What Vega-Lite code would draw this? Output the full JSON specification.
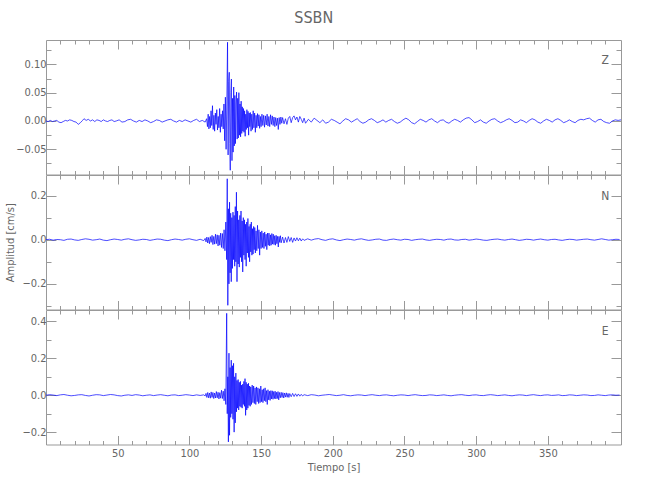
{
"$schema":"https://vega.github.io/schema/vega-lite/v6.json",
"background":"white",
"padding":{"left":4,"top":10,"right":5,"bottom":5},
"title":{"text":"SSBN","fontSize":16,"font":"Liberation Sans Narrow, DejaVu Sans Condensed, sans-serif","fontWeight":"normal","color":"#666666","offset":13,"anchor":"middle"},
"spacing":0,
"bounds":"flush",
"config":{
 "view":{"stroke":"#999999","strokeWidth":1},
 "axis":{"grid":false,"domain":false,"tickColor":"#999999","tickWidth":1,"labelColor":"#666666","labelFont":"Liberation Sans Narrow, DejaVu Sans Condensed, sans-serif","labelFontSize":11,"titleFont":"Liberation Sans Narrow, DejaVu Sans Condensed, sans-serif","titleFontSize":11,"titleFontWeight":"normal","titleColor":"#666666"},
 "axisTop":{"minExtent":0,"maxExtent":0},
 "axisBottom":{"minExtent":0,"maxExtent":0},
 "axisRight":{"minExtent":0,"maxExtent":0}
},
"datasets":{
"Z":[{"t":0,"a":0},{"t":1.5,"a":-0.001},{"t":3,"a":0.001},{"t":4.5,"a":-0.001},{"t":6,"a":0},{"t":7.5,"a":0.001},{"t":9,"a":-0.002},{"t":10.5,"a":-0.003},{"t":12,"a":-0.001},{"t":13.5,"a":0.001},{"t":15,"a":0},{"t":16.5,"a":0.002},{"t":18,"a":0.001},{"t":19.5,"a":-0.001},{"t":21,"a":-0.002},{"t":22.5,"a":-0.006},{"t":24,"a":-0.003},{"t":25.5,"a":0.001},{"t":26.5,"a":0.004},{"t":28,"a":0.001},{"t":29.5,"a":0.003},{"t":31,"a":0},{"t":32.5,"a":0.002},{"t":34,"a":-0.001},{"t":35.5,"a":0.002},{"t":37,"a":0.001},{"t":38.5,"a":-0.001},{"t":40,"a":0.002},{"t":41.5,"a":0},{"t":43,"a":-0.001},{"t":44.5,"a":0.001},{"t":46,"a":0.002},{"t":47.5,"a":-0.001},{"t":49,"a":0},{"t":51,"a":0.002},{"t":53,"a":-0.002},{"t":55,"a":-0.001},{"t":57,"a":0.002},{"t":59,"a":0.003},{"t":61,"a":0},{"t":63,"a":-0.002},{"t":65,"a":0.001},{"t":67,"a":-0.001},{"t":69,"a":0.002},{"t":71,"a":0},{"t":73,"a":-0.003},{"t":75,"a":-0.001},{"t":77,"a":0.002},{"t":79,"a":0.001},{"t":81,"a":-0.002},{"t":83,"a":0},{"t":85,"a":0.002},{"t":87,"a":0.003},{"t":89,"a":0},{"t":91,"a":-0.002},{"t":93,"a":0.001},{"t":95,"a":-0.001},{"t":97,"a":0.002},{"t":99,"a":0},{"t":101,"a":-0.002},{"t":103,"a":0.001},{"t":105,"a":0.003},{"t":107,"a":-0.001},{"t":109,"a":0.001},{"t":111,"a":-0.002},
{"t":112,"a":0.004},{"t":112.6,"a":-0.010},{"t":113.1,"a":0.012},{"t":113.6,"a":-0.014},{"t":114.1,"a":0.008},{"t":114.6,"a":-0.012},{"t":115.1,"a":0.018},{"t":115.6,"a":-0.008},{"t":116.1,"a":0.027},{"t":116.6,"a":-0.015},{"t":117.1,"a":0.010},{"t":117.6,"a":-0.018},{"t":118.1,"a":0.014},{"t":118.6,"a":-0.006},{"t":119.1,"a":0.020},{"t":119.6,"a":-0.016},{"t":120.1,"a":0.008},{"t":120.6,"a":-0.012},{"t":121.1,"a":0.022},{"t":121.6,"a":-0.020},{"t":122.1,"a":0.012},{"t":122.6,"a":-0.010},{"t":123.1,"a":0.018},{"t":123.6,"a":-0.014},{"t":124.1,"a":0.030},{"t":124.6,"a":-0.035},{"t":125.1,"a":0.042},{"t":125.6,"a":-0.050},{"t":126.1,"a":0.030},{"t":126.6,"a":0.139},{"t":127.0,"a":-0.060},{"t":127.4,"a":0.070},{"t":127.8,"a":0.086},{"t":128.2,"a":-0.040},{"t":128.5,"a":-0.087},{"t":128.9,"a":0.050},{"t":129.3,"a":0.074},{"t":129.7,"a":-0.070},{"t":130.1,"a":0.040},{"t":130.5,"a":-0.055},{"t":130.9,"a":0.060},{"t":131.3,"a":-0.044},{"t":131.7,"a":0.045},{"t":132.1,"a":-0.040},{"t":132.5,"a":0.030},{"t":132.9,"a":0.051},{"t":133.3,"a":-0.032},{"t":133.7,"a":0.040},{"t":134.1,"a":-0.030},{"t":134.5,"a":0.050},{"t":134.9,"a":-0.025},{"t":135.3,"a":0.030},{"t":135.7,"a":-0.028},{"t":136.1,"a":0.035},{"t":136.5,"a":-0.022},{"t":136.9,"a":0.025},{"t":137.3,"a":-0.018},{"t":137.7,"a":0.022},{"t":138.1,"a":-0.020},{"t":138.5,"a":0.018},{"t":138.9,"a":-0.027},{"t":139.3,"a":0.012},{"t":139.7,"a":-0.015},{"t":140.1,"a":0.020},{"t":140.5,"a":-0.012},{"t":140.9,"a":0.017},{"t":141.3,"a":-0.025},{"t":141.7,"a":0.014},{"t":142.1,"a":-0.010},{"t":142.5,"a":0.015},{"t":143,"a":-0.018},{"t":143.5,"a":0.012},{"t":144,"a":-0.015},{"t":144.5,"a":0.018},{"t":145,"a":-0.012},{"t":145.5,"a":0.014},{"t":146,"a":-0.020},{"t":146.5,"a":0.010},{"t":147,"a":-0.012},{"t":147.5,"a":0.013},{"t":148,"a":-0.009},{"t":148.5,"a":0.011},{"t":149,"a":-0.013},{"t":149.5,"a":0.008},{"t":150,"a":-0.010},{"t":150.6,"a":0.012},{"t":151.2,"a":-0.008},{"t":151.8,"a":0.010},{"t":152.4,"a":-0.011},{"t":153,"a":0.009},{"t":153.6,"a":-0.007},{"t":154.2,"a":0.012},{"t":154.8,"a":-0.009},{"t":155.4,"a":0.008},{"t":156,"a":-0.010},{"t":156.6,"a":0.011},{"t":157.2,"a":-0.006},{"t":157.8,"a":0.009},{"t":158.4,"a":-0.008},{"t":159,"a":0.007},{"t":159.6,"a":-0.010},{"t":160.2,"a":0.006},{"t":160.8,"a":-0.008},{"t":161.4,"a":0.005},{"t":162,"a":-0.015},{"t":162.6,"a":0.006},{"t":163.2,"a":-0.006},{"t":163.8,"a":0.007},{"t":164.4,"a":-0.004},{"t":165,"a":0.006},{"t":166,"a":-0.005},{"t":167,"a":0.004},{"t":168,"a":-0.006},{"t":169,"a":0.005},{"t":170,"a":0.008},{"t":171,"a":-0.003},{"t":172,"a":0.006},{"t":173,"a":0.009},{"t":174,"a":0.002},{"t":175,"a":0.007},{"t":176,"a":-0.002},{"t":177,"a":0.008},{"t":178,"a":0.003},{"t":179,"a":-0.003},{"t":180,"a":0.005},{"t":181,"a":-0.004},
{"t":183,"a":0.003},{"t":185,"a":-0.002},{"t":187,"a":0.005},{"t":189,"a":0.001},{"t":191,"a":-0.003},{"t":193,"a":0.002},{"t":195,"a":-0.004},{"t":197,"a":-0.002},{"t":199,"a":0.003},{"t":201,"a":0.001},{"t":203,"a":-0.002},{"t":205,"a":-0.005},{"t":207,"a":0},{"t":209,"a":0.004},{"t":211,"a":0.002},{"t":213,"a":-0.002},{"t":215,"a":0.001},{"t":217,"a":0.004},{"t":219,"a":-0.001},{"t":221,"a":-0.004},{"t":223,"a":-0.002},{"t":225,"a":0.002},{"t":227,"a":0.004},{"t":229,"a":0.001},{"t":231,"a":-0.003},{"t":233,"a":-0.001},{"t":235,"a":0.002},{"t":237,"a":-0.002},{"t":239,"a":0.001},{"t":241,"a":0.003},{"t":243,"a":-0.001},{"t":245,"a":-0.004},{"t":247,"a":-0.002},{"t":249,"a":0.002},{"t":251,"a":0.005},{"t":253,"a":0.002},{"t":255,"a":-0.003},{"t":257,"a":-0.005},{"t":259,"a":-0.001},{"t":261,"a":0.003},{"t":263,"a":0.001},{"t":265,"a":-0.002},{"t":267,"a":0.002},{"t":269,"a":0.004},{"t":271,"a":0},{"t":273,"a":-0.003},{"t":275,"a":0.001},{"t":277,"a":0.002},{"t":279,"a":-0.002},{"t":281,"a":-0.004},{"t":283,"a":0},{"t":285,"a":0.003},{"t":287,"a":0.001},{"t":289,"a":-0.002},{"t":291,"a":0.002},{"t":293,"a":0.005},{"t":295,"a":0.006},{"t":297,"a":0.002},{"t":299,"a":-0.003},{"t":301,"a":-0.001},{"t":303,"a":0.002},{"t":305,"a":-0.002},{"t":307,"a":-0.004},{"t":309,"a":0},{"t":311,"a":0.003},{"t":313,"a":0.004},{"t":315,"a":0},{"t":317,"a":-0.003},{"t":319,"a":-0.001},{"t":321,"a":0.002},{"t":323,"a":0.004},{"t":325,"a":0.001},{"t":327,"a":-0.003},{"t":329,"a":-0.002},{"t":331,"a":0.002},{"t":333,"a":0},{"t":335,"a":-0.003},{"t":337,"a":0.001},{"t":339,"a":0.004},{"t":341,"a":0.002},{"t":343,"a":-0.002},{"t":345,"a":-0.004},{"t":347,"a":0},{"t":349,"a":0.003},{"t":351,"a":0.001},{"t":353,"a":-0.002},{"t":355,"a":0.002},{"t":357,"a":0.004},{"t":359,"a":0.001},{"t":361,"a":-0.003},{"t":363,"a":-0.001},{"t":365,"a":0.002},{"t":367,"a":-0.001},{"t":369,"a":-0.003},{"t":371,"a":0.001},{"t":373,"a":0.003},{"t":375,"a":0.002},{"t":377,"a":0.004},{"t":379,"a":0.005},{"t":381,"a":0.001},{"t":383,"a":-0.002},{"t":385,"a":0.002},{"t":387,"a":0.003},{"t":389,"a":-0.001},{"t":391,"a":-0.003},{"t":393,"a":-0.004},{"t":395,"a":0},{"t":397,"a":0.002},{"t":399,"a":0.001},{"t":401,"a":0.002}],
"N":[{"t":0,"a":0},{"t":2.5,"a":0.002},{"t":5,"a":-0.002},{"t":7.5,"a":0.001},{"t":10,"a":0},{"t":12.5,"a":-0.003},{"t":15,"a":0.002},{"t":17.5,"a":0.003},{"t":20,"a":-0.001},{"t":22.5,"a":-0.003},{"t":25,"a":0.001},{"t":27.5,"a":0.004},{"t":30,"a":0.002},{"t":32.5,"a":-0.002},{"t":35,"a":0},{"t":37.5,"a":0.003},{"t":40,"a":-0.002},{"t":42.5,"a":-0.004},{"t":45,"a":0},{"t":47.5,"a":0.003},{"t":50,"a":0.001},{"t":52.5,"a":-0.002},{"t":55,"a":0.002},{"t":57.5,"a":0.004},{"t":60,"a":0},{"t":62.5,"a":-0.003},{"t":65,"a":-0.001},{"t":67.5,"a":0.002},{"t":70,"a":0.001},{"t":72.5,"a":-0.003},{"t":75,"a":0},{"t":77.5,"a":0.003},{"t":80,"a":0.002},{"t":82.5,"a":-0.002},{"t":85,"a":-0.004},{"t":87.5,"a":0},{"t":90,"a":0.003},{"t":92.5,"a":0.001},{"t":95,"a":-0.002},{"t":97.5,"a":0.002},{"t":100,"a":0.004},{"t":102.5,"a":0},{"t":105,"a":-0.003},{"t":107.5,"a":0.002},{"t":110,"a":-0.004},
{"t":111,"a":0.006},{"t":111.6,"a":-0.010},{"t":112.2,"a":0.012},{"t":112.8,"a":-0.015},{"t":113.4,"a":0.010},{"t":114,"a":-0.018},{"t":114.6,"a":0.014},{"t":115.2,"a":-0.012},{"t":115.8,"a":0.020},{"t":116.4,"a":-0.022},{"t":117,"a":0.015},{"t":117.6,"a":-0.020},{"t":118.2,"a":0.025},{"t":118.8,"a":-0.018},{"t":119.4,"a":0.022},{"t":120,"a":-0.028},{"t":120.6,"a":0.020},{"t":121.2,"a":-0.025},{"t":121.8,"a":0.030},{"t":122.4,"a":-0.035},{"t":123,"a":0.028},{"t":123.6,"a":-0.040},{"t":124.2,"a":0.045},{"t":124.8,"a":-0.050},{"t":125.4,"a":0.080},{"t":126,"a":-0.090},{"t":126.4,"a":0.276},{"t":126.8,"a":-0.297},{"t":127.2,"a":0.140},{"t":127.6,"a":-0.200},{"t":128,"a":0.170},{"t":128.4,"a":-0.150},{"t":128.8,"a":0.120},{"t":129.2,"a":-0.190},{"t":129.6,"a":0.100},{"t":130,"a":-0.130},{"t":130.4,"a":0.125},{"t":130.8,"a":-0.090},{"t":131.2,"a":0.110},{"t":131.6,"a":-0.120},{"t":132,"a":0.150},{"t":132.4,"a":-0.100},{"t":132.8,"a":0.215},{"t":133.2,"a":-0.190},{"t":133.6,"a":0.130},{"t":134,"a":-0.110},{"t":134.4,"a":0.090},{"t":134.8,"a":-0.124},{"t":135.2,"a":0.110},{"t":135.6,"a":-0.080},{"t":136,"a":0.130},{"t":136.4,"a":-0.100},{"t":136.8,"a":0.085},{"t":137.2,"a":-0.146},{"t":137.6,"a":0.100},{"t":138,"a":-0.070},{"t":138.4,"a":0.090},{"t":138.8,"a":-0.090},{"t":139.2,"a":0.070},{"t":139.6,"a":-0.120},{"t":140,"a":0.080},{"t":140.4,"a":-0.060},{"t":140.8,"a":0.096},{"t":141.2,"a":-0.080},{"t":141.6,"a":0.060},{"t":142,"a":-0.100},{"t":142.4,"a":0.070},{"t":142.8,"a":-0.055},{"t":143.2,"a":0.080},{"t":143.6,"a":-0.070},{"t":144,"a":0.050},{"t":144.4,"a":-0.065},{"t":144.8,"a":0.060},{"t":145.2,"a":-0.045},{"t":145.6,"a":0.055},{"t":146,"a":-0.060},{"t":146.5,"a":0.040},{"t":147,"a":-0.050},{"t":147.5,"a":0.065},{"t":148,"a":-0.040},{"t":148.5,"a":0.045},{"t":149,"a":-0.070},{"t":149.5,"a":0.035},{"t":150,"a":-0.040},{"t":150.5,"a":0.040},{"t":151,"a":-0.035},{"t":151.5,"a":0.030},{"t":152,"a":-0.040},{"t":152.5,"a":0.035},{"t":153,"a":-0.030},{"t":153.5,"a":0.025},{"t":154,"a":-0.045},{"t":154.5,"a":0.030},{"t":155,"a":-0.025},{"t":155.5,"a":0.030},{"t":156,"a":-0.028},{"t":156.5,"a":0.022},{"t":157,"a":-0.025},{"t":157.5,"a":0.028},{"t":158,"a":-0.020},{"t":158.5,"a":0.025},{"t":159,"a":-0.022},{"t":159.5,"a":0.018},{"t":160,"a":-0.025},{"t":160.5,"a":0.020},{"t":161,"a":-0.018},{"t":161.5,"a":0.015},{"t":162,"a":-0.033},{"t":162.5,"a":0.015},{"t":163,"a":-0.012},{"t":163.5,"a":0.018},{"t":164,"a":-0.014},{"t":165,"a":0.012},{"t":166,"a":-0.015},{"t":167,"a":0.010},{"t":168,"a":-0.012},{"t":169,"a":0.014},{"t":170,"a":-0.008},{"t":171,"a":0.010},{"t":172,"a":-0.012},{"t":173,"a":0.008},{"t":174,"a":-0.006},{"t":175,"a":0.009},{"t":176,"a":-0.005},{"t":177,"a":0.007},{"t":178,"a":-0.006},{"t":179,"a":0.004},{"t":180,"a":-0.003},
{"t":182.5,"a":0.004},{"t":185,"a":-0.002},{"t":187.5,"a":0.003},{"t":190,"a":0.005},{"t":192.5,"a":0},{"t":195,"a":-0.003},{"t":197.5,"a":0.002},{"t":200,"a":0.004},{"t":202.5,"a":-0.001},{"t":205,"a":-0.004},{"t":207.5,"a":0},{"t":210,"a":0.003},{"t":212.5,"a":0.001},{"t":215,"a":-0.002},{"t":217.5,"a":0.002},{"t":220,"a":0.004},{"t":222.5,"a":0},{"t":225,"a":-0.003},{"t":227.5,"a":-0.001},{"t":230,"a":0.002},{"t":232.5,"a":0.003},{"t":235,"a":-0.002},{"t":237.5,"a":-0.003},{"t":240,"a":0.001},{"t":242.5,"a":0.003},{"t":245,"a":0},{"t":247.5,"a":-0.002},{"t":250,"a":0.002},{"t":252.5,"a":0.001},{"t":255,"a":-0.003},{"t":257.5,"a":0},{"t":260,"a":0.002},{"t":262.5,"a":0.003},{"t":265,"a":-0.001},{"t":267.5,"a":-0.003},{"t":270,"a":0},{"t":272.5,"a":0.002},{"t":275,"a":0.001},{"t":277.5,"a":-0.002},{"t":280,"a":0.002},{"t":282.5,"a":0.003},{"t":285,"a":-0.001},{"t":287.5,"a":-0.002},{"t":290,"a":0.001},{"t":292.5,"a":0.002},{"t":295,"a":-0.002},{"t":297.5,"a":0},{"t":300,"a":0.003},{"t":302.5,"a":0.001},{"t":305,"a":-0.002},{"t":307.5,"a":-0.003},{"t":310,"a":0},{"t":312.5,"a":0.002},{"t":315,"a":0.003},{"t":317.5,"a":0},{"t":320,"a":-0.002},{"t":322.5,"a":0.001},{"t":325,"a":0.003},{"t":327.5,"a":0},{"t":330,"a":-0.003},{"t":332.5,"a":-0.001},{"t":335,"a":0.002},{"t":337.5,"a":0.001},{"t":340,"a":-0.002},{"t":342.5,"a":0.001},{"t":345,"a":0.003},{"t":347.5,"a":0},{"t":350,"a":-0.002},{"t":352.5,"a":0.001},{"t":355,"a":0.002},{"t":357.5,"a":-0.001},{"t":360,"a":-0.003},{"t":362.5,"a":0},{"t":365,"a":0.002},{"t":367.5,"a":0.001},{"t":370,"a":-0.002},{"t":372.5,"a":0},{"t":375,"a":0.002},{"t":377.5,"a":0.003},{"t":380,"a":0},{"t":382.5,"a":-0.002},{"t":385,"a":0.001},{"t":387.5,"a":0.004},{"t":390,"a":0.001},{"t":392.5,"a":-0.002},{"t":395,"a":0},{"t":397.5,"a":0.002},{"t":400,"a":0.001}],
"E":[{"t":0,"a":0},{"t":2.5,"a":0.003},{"t":5,"a":0.001},{"t":7.5,"a":-0.002},{"t":10,"a":0.002},{"t":12.5,"a":0.004},{"t":15,"a":0},{"t":17.5,"a":-0.003},{"t":20,"a":-0.001},{"t":22.5,"a":0.002},{"t":25,"a":0.003},{"t":27.5,"a":-0.001},{"t":30,"a":-0.004},{"t":32.5,"a":0},{"t":35,"a":0.003},{"t":37.5,"a":0.002},{"t":40,"a":-0.002},{"t":42.5,"a":0.001},{"t":45,"a":0.004},{"t":47.5,"a":0.002},{"t":50,"a":-0.002},{"t":52.5,"a":-0.004},{"t":55,"a":0},{"t":57.5,"a":0.002},{"t":60,"a":-0.001},{"t":62.5,"a":0.003},{"t":65,"a":0.001},{"t":67.5,"a":-0.003},{"t":70,"a":0},{"t":72.5,"a":0.002},{"t":75,"a":-0.002},{"t":77.5,"a":0.001},{"t":80,"a":0.003},{"t":82.5,"a":0},{"t":85,"a":-0.003},{"t":87.5,"a":0.001},{"t":90,"a":0.002},{"t":92.5,"a":-0.002},{"t":95,"a":0},{"t":97.5,"a":0.003},{"t":100,"a":0.001},{"t":102.5,"a":-0.002},{"t":105,"a":0.002},{"t":107.5,"a":-0.001},{"t":110,"a":0.002},
{"t":111,"a":-0.004},{"t":111.6,"a":0.010},{"t":112.2,"a":-0.012},{"t":112.8,"a":0.015},{"t":113.4,"a":-0.014},{"t":114,"a":0.012},{"t":114.6,"a":-0.016},{"t":115.2,"a":0.018},{"t":115.8,"a":-0.012},{"t":116.4,"a":0.015},{"t":117,"a":-0.018},{"t":117.6,"a":0.012},{"t":118.2,"a":-0.015},{"t":118.8,"a":0.020},{"t":119.4,"a":-0.014},{"t":120,"a":0.016},{"t":120.6,"a":-0.020},{"t":121.2,"a":0.014},{"t":121.8,"a":-0.016},{"t":122.4,"a":0.027},{"t":123,"a":-0.018},{"t":123.6,"a":0.022},{"t":124.2,"a":-0.030},{"t":124.8,"a":0.035},{"t":125.4,"a":-0.050},{"t":126,"a":0.444},{"t":126.4,"a":-0.100},{"t":126.8,"a":0.100},{"t":127.2,"a":-0.253},{"t":127.6,"a":0.228},{"t":128,"a":-0.217},{"t":128.4,"a":0.150},{"t":128.8,"a":-0.120},{"t":129.2,"a":0.190},{"t":129.6,"a":-0.100},{"t":130,"a":0.160},{"t":130.4,"a":-0.130},{"t":130.8,"a":0.173},{"t":131.2,"a":-0.200},{"t":131.6,"a":0.100},{"t":132,"a":-0.150},{"t":132.4,"a":0.120},{"t":132.8,"a":-0.090},{"t":133.2,"a":0.080},{"t":133.6,"a":-0.070},{"t":134,"a":0.085},{"t":134.4,"a":-0.080},{"t":134.8,"a":0.070},{"t":135.2,"a":-0.060},{"t":135.6,"a":0.075},{"t":136,"a":-0.065},{"t":136.4,"a":0.055},{"t":136.8,"a":-0.070},{"t":137.2,"a":0.060},{"t":137.6,"a":-0.050},{"t":138,"a":0.075},{"t":138.4,"a":-0.060},{"t":138.8,"a":0.090},{"t":139.2,"a":-0.109},{"t":139.6,"a":0.070},{"t":140,"a":-0.080},{"t":140.4,"a":0.060},{"t":140.8,"a":-0.070},{"t":141.2,"a":0.065},{"t":141.6,"a":-0.055},{"t":142,"a":0.050},{"t":142.4,"a":-0.060},{"t":142.8,"a":0.045},{"t":143.3,"a":-0.050},{"t":143.8,"a":0.055},{"t":144.3,"a":-0.040},{"t":144.8,"a":0.050},{"t":145.3,"a":-0.045},{"t":145.8,"a":0.040},{"t":146.3,"a":-0.050},{"t":146.8,"a":0.045},{"t":147.3,"a":-0.035},{"t":147.8,"a":0.040},{"t":148.3,"a":-0.045},{"t":148.8,"a":0.035},{"t":149.3,"a":-0.040},{"t":149.8,"a":0.050},{"t":150.3,"a":-0.035},{"t":150.8,"a":0.030},{"t":151.3,"a":-0.040},{"t":151.8,"a":0.035},{"t":152.3,"a":-0.030},{"t":152.8,"a":0.040},{"t":153.3,"a":-0.035},{"t":153.8,"a":0.025},{"t":154.3,"a":-0.050},{"t":154.8,"a":0.030},{"t":155.3,"a":-0.025},{"t":155.8,"a":0.022},{"t":156.3,"a":-0.028},{"t":156.8,"a":0.025},{"t":157.3,"a":-0.020},{"t":157.8,"a":0.024},{"t":158.3,"a":-0.022},{"t":158.8,"a":0.020},{"t":159.3,"a":-0.018},{"t":159.8,"a":0.022},{"t":160.3,"a":-0.020},{"t":160.8,"a":0.016},{"t":161.3,"a":-0.018},{"t":161.8,"a":0.020},{"t":162.3,"a":-0.025},{"t":162.8,"a":0.015},{"t":163.4,"a":-0.014},{"t":164,"a":0.016},{"t":164.6,"a":-0.012},{"t":165.2,"a":0.014},{"t":165.8,"a":-0.015},{"t":166.4,"a":0.012},{"t":167,"a":-0.010},{"t":167.6,"a":0.013},{"t":168.2,"a":-0.011},{"t":168.8,"a":0.010},{"t":169.4,"a":-0.012},{"t":170,"a":0.009},{"t":171,"a":-0.008},{"t":172,"a":0.010},{"t":173,"a":-0.007},{"t":174,"a":0.008},{"t":175,"a":-0.006},{"t":176,"a":0.007},{"t":177,"a":-0.005},{"t":178,"a":0.005},{"t":179,"a":-0.004},{"t":180,"a":0.003},
{"t":182.5,"a":-0.002},{"t":185,"a":0.003},{"t":187.5,"a":0.001},{"t":190,"a":-0.003},{"t":192.5,"a":0},{"t":195,"a":0.002},{"t":197.5,"a":0.004},{"t":200,"a":0.001},{"t":202.5,"a":-0.002},{"t":205,"a":0},{"t":207.5,"a":0.003},{"t":210,"a":-0.001},{"t":212.5,"a":-0.003},{"t":215,"a":0},{"t":217.5,"a":0.002},{"t":220,"a":0.001},{"t":222.5,"a":-0.002},{"t":225,"a":0.001},{"t":227.5,"a":0.003},{"t":230,"a":0},{"t":232.5,"a":-0.002},{"t":235,"a":0.001},{"t":237.5,"a":0.002},{"t":240,"a":-0.001},{"t":242.5,"a":-0.003},{"t":245,"a":0},{"t":247.5,"a":0.002},{"t":250,"a":0.001},{"t":252.5,"a":-0.002},{"t":255,"a":0.001},{"t":257.5,"a":0.003},{"t":260,"a":0},{"t":262.5,"a":-0.002},{"t":265,"a":-0.001},{"t":267.5,"a":0.002},{"t":270,"a":0.001},{"t":272.5,"a":-0.002},{"t":275,"a":0},{"t":277.5,"a":0.002},{"t":280,"a":-0.001},{"t":282.5,"a":-0.003},{"t":285,"a":0},{"t":287.5,"a":0.002},{"t":290,"a":0.003},{"t":292.5,"a":0},{"t":295,"a":-0.002},{"t":297.5,"a":0.001},{"t":300,"a":0.002},{"t":302.5,"a":-0.001},{"t":305,"a":-0.002},{"t":307.5,"a":0.001},{"t":310,"a":0.003},{"t":312.5,"a":0.001},{"t":315,"a":-0.002},{"t":317.5,"a":0},{"t":320,"a":0.002},{"t":322.5,"a":-0.001},{"t":325,"a":-0.003},{"t":327.5,"a":0},{"t":330,"a":0.002},{"t":332.5,"a":0.001},{"t":335,"a":-0.002},{"t":337.5,"a":0.001},{"t":340,"a":0.003},{"t":342.5,"a":0},{"t":345,"a":-0.002},{"t":347.5,"a":0.001},{"t":350,"a":0.002},{"t":352.5,"a":-0.001},{"t":355,"a":0},{"t":357.5,"a":0.002},{"t":360,"a":-0.002},{"t":362.5,"a":-0.001},{"t":365,"a":0.002},{"t":367.5,"a":0.001},{"t":370,"a":-0.002},{"t":372.5,"a":0},{"t":375,"a":0.002},{"t":377.5,"a":0.001},{"t":380,"a":-0.002},{"t":382.5,"a":-0.001},{"t":385,"a":0.002},{"t":387.5,"a":0},{"t":390,"a":-0.002},{"t":392.5,"a":0.001},{"t":395,"a":0.002},{"t":397.5,"a":0},{"t":400,"a":0.001}]
},
"vconcat":[
{"width":575,"height":134.5,
 "resolve":{"axis":{"x":"independent","y":"independent"}},
 "layer":[
  {"data":{"name":"Z"},"mark":{"type":"line","color":"#0000ff","strokeWidth":0.7},
   "encoding":{
    "x":{"field":"t","type":"quantitative","scale":{"domain":[0,401],"nice":false,"zero":false},"axis":{"orient":"bottom","values":[50,100,150,200,250,300,350],"tickSize":-9,"labels":false,"title":null}},
    "y":{"field":"a","type":"quantitative","scale":{"domain":[-0.0945,0.143],"nice":false,"zero":false},"axis":{"orient":"left","values":[-0.05,0,0.05,0.1],"tickSize":-10,"format":".2f","labelPadding":10,"title":null}}}},
  {"data":{"values":[{}]},"mark":{"type":"point","opacity":0},
   "encoding":{
    "x":{"datum":100,"type":"quantitative","scale":{"domain":[0,401],"nice":false,"zero":false},"axis":{"orient":"bottom","values":[10,20,30,40,60,70,80,90,110,120,130,140,160,170,180,190,210,220,230,240,260,270,280,290,310,320,330,340,360,370,380,390],"tickSize":-4,"labels":false,"title":null}},
    "y":{"datum":0,"type":"quantitative","scale":{"domain":[-0.0945,0.143],"nice":false,"zero":false},"axis":{"orient":"left","values":[-0.075,-0.025,0.025,0.075,0.125],"tickSize":-5,"labels":false,"title":null}}}},
  {"data":{"values":[{}]},"mark":{"type":"point","opacity":0},
   "encoding":{
    "x":{"datum":100,"type":"quantitative","scale":{"domain":[0,401],"nice":false,"zero":false},"axis":{"orient":"top","values":[50,100,150,200,250,300,350],"tickSize":-9,"labels":false,"title":null}},
    "y":{"datum":0,"type":"quantitative","scale":{"domain":[-0.0945,0.143],"nice":false,"zero":false},"axis":{"orient":"right","values":[-0.05,0,0.05,0.1],"tickSize":-10,"labels":false,"title":null}}}},
  {"data":{"values":[{}]},"mark":{"type":"point","opacity":0},
   "encoding":{
    "x":{"datum":100,"type":"quantitative","scale":{"domain":[0,401],"nice":false,"zero":false},"axis":{"orient":"top","values":[10,20,30,40,60,70,80,90,110,120,130,140,160,170,180,190,210,220,230,240,260,270,280,290,310,320,330,340,360,370,380,390],"tickSize":-4,"labels":false,"title":null}},
    "y":{"datum":0,"type":"quantitative","scale":{"domain":[-0.0945,0.143],"nice":false,"zero":false},"axis":{"orient":"right","values":[-0.075,-0.025,0.025,0.075,0.125],"tickSize":-5,"labels":false,"title":null}}}},
  {"data":{"values":[{}]},"mark":{"type":"text","font":"Liberation Sans Narrow, DejaVu Sans Condensed, sans-serif","fontSize":12,"color":"#666666"},
   "encoding":{
    "x":{"datum":390,"type":"quantitative","scale":{"domain":[0,401],"nice":false,"zero":false},"axis":null},
    "y":{"datum":0.107,"type":"quantitative","scale":{"domain":[-0.0945,0.143],"nice":false,"zero":false},"axis":null},
    "text":{"value":"Z"}}}
 ]},
{"width":575,"height":134.5,
 "resolve":{"axis":{"x":"independent","y":"independent"}},
 "layer":[
  {"data":{"name":"N"},"mark":{"type":"line","color":"#0000ff","strokeWidth":0.7},
   "encoding":{
    "x":{"field":"t","type":"quantitative","scale":{"domain":[0,401],"nice":false,"zero":false},"axis":{"orient":"bottom","values":[50,100,150,200,250,300,350],"tickSize":-9,"labels":false,"title":null}},
    "y":{"field":"a","type":"quantitative","scale":{"domain":[-0.316,0.293],"nice":false,"zero":false},"axis":{"orient":"left","values":[-0.2,0,0.2],"tickSize":-10,"format":".1f","labelPadding":10,"title":"Amplitud  [cm/s]","titlePadding":6}}}},
  {"data":{"values":[{}]},"mark":{"type":"point","opacity":0},
   "encoding":{
    "x":{"datum":100,"type":"quantitative","scale":{"domain":[0,401],"nice":false,"zero":false},"axis":{"orient":"bottom","values":[10,20,30,40,60,70,80,90,110,120,130,140,160,170,180,190,210,220,230,240,260,270,280,290,310,320,330,340,360,370,380,390],"tickSize":-4,"labels":false,"title":null}},
    "y":{"datum":0,"type":"quantitative","scale":{"domain":[-0.316,0.293],"nice":false,"zero":false},"axis":{"orient":"left","values":[-0.3,-0.1,0.1],"tickSize":-5,"labels":false,"title":null}}}},
  {"data":{"values":[{}]},"mark":{"type":"point","opacity":0},
   "encoding":{
    "x":{"datum":100,"type":"quantitative","scale":{"domain":[0,401],"nice":false,"zero":false},"axis":{"orient":"top","values":[50,100,150,200,250,300,350],"tickSize":-9,"labels":false,"title":null}},
    "y":{"datum":0,"type":"quantitative","scale":{"domain":[-0.316,0.293],"nice":false,"zero":false},"axis":{"orient":"right","values":[-0.2,0,0.2],"tickSize":-10,"labels":false,"title":null}}}},
  {"data":{"values":[{}]},"mark":{"type":"point","opacity":0},
   "encoding":{
    "x":{"datum":100,"type":"quantitative","scale":{"domain":[0,401],"nice":false,"zero":false},"axis":{"orient":"top","values":[10,20,30,40,60,70,80,90,110,120,130,140,160,170,180,190,210,220,230,240,260,270,280,290,310,320,330,340,360,370,380,390],"tickSize":-4,"labels":false,"title":null}},
    "y":{"datum":0,"type":"quantitative","scale":{"domain":[-0.316,0.293],"nice":false,"zero":false},"axis":{"orient":"right","values":[-0.3,-0.1,0.1],"tickSize":-5,"labels":false,"title":null}}}},
  {"data":{"values":[{}]},"mark":{"type":"text","font":"Liberation Sans Narrow, DejaVu Sans Condensed, sans-serif","fontSize":12,"color":"#666666"},
   "encoding":{
    "x":{"datum":390,"type":"quantitative","scale":{"domain":[0,401],"nice":false,"zero":false},"axis":null},
    "y":{"datum":0.199,"type":"quantitative","scale":{"domain":[-0.316,0.293],"nice":false,"zero":false},"axis":null},
    "text":{"value":"N"}}}
 ]},
{"width":575,"height":134.5,
 "resolve":{"axis":{"x":"independent","y":"independent"}},
 "layer":[
  {"data":{"name":"E"},"mark":{"type":"line","color":"#0000ff","strokeWidth":0.7},
   "encoding":{
    "x":{"field":"t","type":"quantitative","scale":{"domain":[0,401],"nice":false,"zero":false},"axis":{"orient":"bottom","values":[50,100,150,200,250,300,350],"tickSize":-9,"labelPadding":12,"title":"Tiempo  [s]","titlePadding":3,"maxExtent":200,"minExtent":0}},
    "y":{"field":"a","type":"quantitative","scale":{"domain":[-0.267,0.462],"nice":false,"zero":false},"axis":{"orient":"left","values":[-0.2,0,0.2,0.4],"tickSize":-10,"format":".1f","labelPadding":10,"title":null}}}},
  {"data":{"values":[{}]},"mark":{"type":"point","opacity":0},
   "encoding":{
    "x":{"datum":100,"type":"quantitative","scale":{"domain":[0,401],"nice":false,"zero":false},"axis":{"orient":"bottom","values":[10,20,30,40,60,70,80,90,110,120,130,140,160,170,180,190,210,220,230,240,260,270,280,290,310,320,330,340,360,370,380,390],"tickSize":-4,"labels":false,"title":null}},
    "y":{"datum":0,"type":"quantitative","scale":{"domain":[-0.267,0.462],"nice":false,"zero":false},"axis":{"orient":"left","values":[-0.1,0.1,0.3],"tickSize":-5,"labels":false,"title":null}}}},
  {"data":{"values":[{}]},"mark":{"type":"point","opacity":0},
   "encoding":{
    "x":{"datum":100,"type":"quantitative","scale":{"domain":[0,401],"nice":false,"zero":false},"axis":{"orient":"top","values":[50,100,150,200,250,300,350],"tickSize":-9,"labels":false,"title":null}},
    "y":{"datum":0,"type":"quantitative","scale":{"domain":[-0.267,0.462],"nice":false,"zero":false},"axis":{"orient":"right","values":[-0.2,0,0.2,0.4],"tickSize":-10,"labels":false,"title":null}}}},
  {"data":{"values":[{}]},"mark":{"type":"point","opacity":0},
   "encoding":{
    "x":{"datum":100,"type":"quantitative","scale":{"domain":[0,401],"nice":false,"zero":false},"axis":{"orient":"top","values":[10,20,30,40,60,70,80,90,110,120,130,140,160,170,180,190,210,220,230,240,260,270,280,290,310,320,330,340,360,370,380,390],"tickSize":-4,"labels":false,"title":null}},
    "y":{"datum":0,"type":"quantitative","scale":{"domain":[-0.267,0.462],"nice":false,"zero":false},"axis":{"orient":"right","values":[-0.1,0.1,0.3],"tickSize":-5,"labels":false,"title":null}}}},
  {"data":{"values":[{}]},"mark":{"type":"text","font":"Liberation Sans Narrow, DejaVu Sans Condensed, sans-serif","fontSize":12,"color":"#666666"},
   "encoding":{
    "x":{"datum":390,"type":"quantitative","scale":{"domain":[0,401],"nice":false,"zero":false},"axis":null},
    "y":{"datum":0.348,"type":"quantitative","scale":{"domain":[-0.267,0.462],"nice":false,"zero":false},"axis":null},
    "text":{"value":"E"}}}
 ]}
]
}
